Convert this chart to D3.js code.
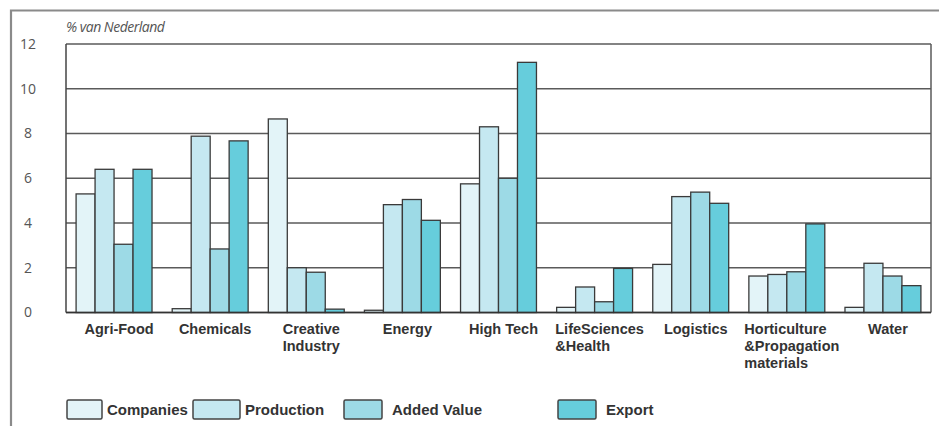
<!DOCTYPE html>
<html>
<head>
<meta charset="utf-8">
<script src="https://cdn.jsdelivr.net/npm/d3@7"></script>
<style>
  html, body { margin: 0; padding: 0; background: #fff; }
  svg { display: block; }
</style>
</head>
<body>
<svg id="chart" width="939" height="426"></svg>
<script>
// Sector categories (multi-line labels split on "|")
const categories = [
  "Agri-Food", "Chemicals", "Creative|Industry", "Energy", "High Tech",
  "LifeSciences|&Health", "Logistics", "Horticulture|&Propagation|materials", "Water"
];
const seriesNames = ["Companies", "Production", "Added Value", "Export"];

// Share of the Netherlands total, per sector (%)
const companies  = [5.3, 0.17, 8.65, 0.1, 5.75, 0.23, 2.15, 1.63, 0.23];
const production = [6.4, 7.88, 2.0, 4.82, 8.3, 1.14, 5.18, 1.7, 2.2];
const addedValue = [3.05, 2.84, 1.8, 5.05, 6.0, 0.48, 5.38, 1.82, 1.63];
const exportVals = [6.4, 7.67, 0.15, 4.12, 11.18, 1.97, 4.88, 3.96, 1.2];

const yTicks = [0, 2, 4, 6, 8, 10, 12];
const axisTitle = "% van Nederland";

const seriesValues = [companies, production, addedValue, exportVals];
const colors = ["#e3f4f8", "#c5e8f1", "#9ddae6", "#66cddc"];

// Layout
const plot = { left: 66, right: 931, top: 44, bottom: 312.5 };
const legendX = [67, 193, 344, 558];
const legendW = [35, 47, 38, 38];

const svg = d3.select("#chart");

// Outer frame (top and left edges)
svg.append("path")
  .attr("d", "M11,426 V10.5 H939")
  .attr("fill", "none").attr("stroke", "#8a8a8a").attr("stroke-width", 2.2);

const x0 = d3.scaleBand().domain(categories).range([plot.left, plot.right])
  .paddingInner(0.21).paddingOuter(0.105);
const x1 = d3.scaleBand().domain(seriesNames).range([0, x0.bandwidth()]);
const y = d3.scaleLinear().domain([0, 12]).range([plot.bottom, plot.top]);

// Horizontal gridlines
svg.append("g").selectAll("line").data(yTicks).join("line")
  .attr("x1", plot.left).attr("x2", plot.right)
  .attr("y1", d => y(d)).attr("y2", d => y(d))
  .attr("stroke", "#5a5a5a").attr("stroke-width", 1.5);

// Plot frame sides
svg.append("line").attr("x1", plot.left).attr("x2", plot.left)
  .attr("y1", plot.top).attr("y2", plot.bottom)
  .attr("stroke", "#444").attr("stroke-width", 1.5);
svg.append("line").attr("x1", plot.right).attr("x2", plot.right)
  .attr("y1", plot.top).attr("y2", plot.bottom)
  .attr("stroke", "#5a5a5a").attr("stroke-width", 1.5);

// Y axis tick labels
svg.append("g").selectAll("text").data(yTicks).join("text")
  .attr("x", 28).attr("y", d => y(d)).attr("dy", "0.35em")
  .attr("text-anchor", "middle")
  .attr("font-family", "'Open Sans', 'Liberation Sans', sans-serif")
  .attr("font-size", 14).attr("fill", "#555")
  .text(d => d);

svg.append("text")
  .attr("x", 66).attr("y", 32)
  .attr("font-family", "'Open Sans', 'Liberation Sans', sans-serif")
  .attr("font-style", "italic").attr("font-size", 14)
  .attr("letter-spacing", -0.5).attr("fill", "#555")
  .text(axisTitle);

// Bars
const groups = svg.append("g").selectAll("g").data(categories).join("g")
  .attr("transform", d => `translate(${x0(d)},0)`);

groups.selectAll("rect")
  .data((c, i) => seriesNames.map((s, k) => ({ s, k, v: seriesValues[k][i] })))
  .join("rect")
  .attr("x", d => x1(d.s))
  .attr("width", x1.bandwidth())
  .attr("y", d => y(d.v))
  .attr("height", d => y(0) - y(d.v))
  .attr("fill", d => colors[d.k])
  .attr("stroke", "#3a3a3a").attr("stroke-width", 1.3);

// Bottom axis line
svg.append("line").attr("x1", plot.left).attr("x2", plot.right)
  .attr("y1", plot.bottom).attr("y2", plot.bottom)
  .attr("stroke", "#333").attr("stroke-width", 1.6);

// Category labels: lines left-aligned, block centred under the group
categories.forEach(c => {
  const lines = c.split("|");
  const g = svg.append("g");
  const texts = g.selectAll("text").data(lines).join("text")
    .attr("y", (d, i) => 334 + i * 17)
    .attr("font-family", "'Liberation Sans', Arial, sans-serif")
    .attr("font-weight", "bold").attr("font-size", 14.5)
    .attr("fill", "#333")
    .text(d => d);
  let maxW = 0;
  texts.each(function () { maxW = Math.max(maxW, this.getComputedTextLength()); });
  const cx = x0(c) + x0.bandwidth() / 2 + 5;
  texts.attr("x", cx - maxW / 2);
});

// Legend
const legend = svg.append("g").selectAll("g").data(seriesNames).join("g");
legend.append("rect")
  .attr("x", (d, i) => legendX[i]).attr("y", 400)
  .attr("width", (d, i) => legendW[i]).attr("height", 19)
  .attr("rx", 1.5)
  .attr("fill", (d, i) => colors[i])
  .attr("stroke", "#444").attr("stroke-width", 1.5);
legend.append("text")
  .attr("x", (d, i) => legendX[i] + legendW[i] + (i >= 2 ? 10 : 5))
  .attr("y", 415)
  .attr("font-family", "'Liberation Sans', Arial, sans-serif")
  .attr("font-weight", "bold").attr("font-size", 15)
  .attr("fill", "#333")
  .text(d => d);
</script>
</body>
</html>
